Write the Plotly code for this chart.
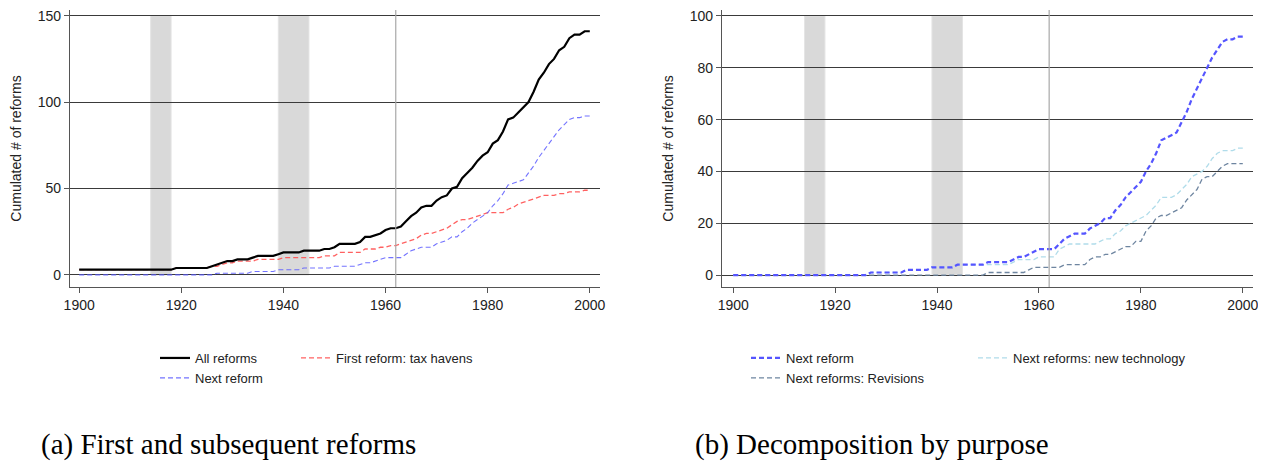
import plotly.graph_objects as go

years = list(range(1900, 2001))

# Cumulated number of reforms
all_reforms = ([3] * 19 + [4] * 6 +
               [4, 5, 6, 7, 8, 8, 9, 9, 9, 10, 11, 11, 11, 11, 12,  # 1925-1939
                13, 13, 13, 13, 14, 14, 14, 14, 15, 15,             # 1940-1949
                16, 18, 18, 18, 18, 19, 22, 22, 23, 24,             # 1950-1959
                26, 27, 27, 28, 31, 34, 36, 39, 40, 40,             # 1960-1969
                43, 45, 46, 50, 51, 56, 59, 62, 66, 69,             # 1970-1979
                71, 76, 78, 83, 90, 91, 94, 97, 100, 106,           # 1980-1989
                113, 117, 122, 125, 130, 132, 137, 139, 139, 141,   # 1990-1999
                141])
first_reform = ([3] * 19 + [4] * 7 +
                [5, 5, 6, 7, 7, 8, 8, 8, 8, 9, 9, 9, 9, 9,          # 1926-1939
                 10, 10, 10, 10, 10, 10, 10, 10, 11, 11,            # 1940-1949
                 11, 13, 13, 13, 13, 13, 15, 15, 15, 16,            # 1950-1959
                 16, 17, 17, 18, 19, 20, 21, 23, 24, 24,            # 1960-1969
                 25, 26, 27, 29, 31, 32, 32, 33, 34, 35,            # 1970-1979
                 36, 36, 36, 36, 38, 39, 41, 42, 43, 44,            # 1980-1989
                 45, 46, 46, 46, 47, 47, 48, 48, 48, 49,            # 1990-1999
                 49])
next_reform = ([0] * 27 +
               [1, 1, 1, 1, 1, 1, 1, 2, 2, 2, 2, 2, 3,              # 1927-1939
                3, 3, 3, 3, 4, 4, 4, 4, 4, 4,                       # 1940-1949
                5, 5, 5, 5, 5, 6, 7, 7, 8, 9,                       # 1950-1959
                10, 10, 10, 10, 12, 14, 15, 16, 16, 16,             # 1960-1969
                18, 19, 20, 22, 22, 25, 27, 30, 32, 34,             # 1970-1979
                36, 40, 43, 47, 52, 53, 54, 55, 59, 63,             # 1980-1989
                68, 72, 76, 80, 84, 87, 90, 91, 91, 92,             # 1990-1999
                92])
revisions = ([0] * 50 +
             [1, 1, 1, 1, 1, 1, 1, 1, 2, 3,                         # 1950-1959
              3, 3, 3, 3, 3, 4, 4, 4, 4, 4,                         # 1960-1969
              6, 7, 7, 8, 8, 9, 10, 11, 11, 13,                     # 1970-1979
              13, 17, 19, 22, 23, 23, 24, 25, 26, 29,               # 1980-1989
              31, 33, 37, 38, 38, 40, 42, 43, 43, 43,               # 1990-1999
              43])
new_technology = ([0] * 27 +
                  [1, 1, 1, 1, 1, 1, 1, 2, 2, 2, 2, 2, 3,           # 1927-1939
                   3, 3, 3, 3, 4, 4, 4, 4, 4, 4,                    # 1940-1949
                   4, 4, 4, 4, 4, 5, 6, 6, 6, 6,                    # 1950-1959
                   7, 7, 7, 7, 10, 11, 12, 12, 12, 12,              # 1960-1969
                   12, 12, 13, 14, 14, 16, 17, 19, 20, 21,          # 1970-1979
                   22, 23, 25, 27, 30, 30, 30, 31, 33, 35,          # 1980-1989
                   38, 39, 40, 42, 45, 47, 48, 48, 48, 49,          # 1990-1999
                   49])

war_starts = [1914, 1939]
war_ends = [1918, 1945]
ref_year = 1962
x_ticks = [1900, 1920, 1940, 1960, 1980, 2000]
y_ticks_a = [0, 50, 100, 150]
y_ticks_b = [0, 20, 40, 60, 80, 100]

# the page body has an 8px margin, so the figure is drawn 8px in from the window edge
OFF = 8
W, H = 1266 - OFF, 461 - OFF


def px(x):
    return (x - OFF) / W


def py(y):
    return 1 - (y - OFF) / H


font = "Liberation Sans, Arial, sans-serif"

fig = go.Figure()

dash = "5px,3px"

# Left panel
fig.add_trace(go.Scatter(x=years, y=first_reform, mode="lines", name="First reform: tax havens",
                         line=dict(color="rgba(255,80,80,0.9)", width=1.3, dash=dash),
                         legend="legend", legendgroup="a2", legendrank=3, xaxis="x", yaxis="y"))
fig.add_trace(go.Scatter(x=years, y=next_reform, mode="lines", name="Next reform",
                         line=dict(color="rgba(90,90,255,0.85)", width=1.1, dash=dash),
                         legend="legend", legendgroup="a1", legendrank=2, legendwidth=96,
                         xaxis="x", yaxis="y"))
fig.add_trace(go.Scatter(x=years, y=all_reforms, mode="lines", name="All reforms",
                         line=dict(color="black", width=2.2),
                         legend="legend", legendgroup="a1", legendrank=1, legendwidth=96,
                         xaxis="x", yaxis="y"))

# Right panel
fig.add_trace(go.Scatter(x=years, y=revisions, mode="lines", name="Next reforms: Revisions",
                         line=dict(color="#6E85A0", width=1.3, dash=dash),
                         legend="legend2", legendgroup="b1", legendrank=2, legendwidth=182,
                         xaxis="x2", yaxis="y2"))
fig.add_trace(go.Scatter(x=years, y=new_technology, mode="lines", name="Next reforms: new technology",
                         line=dict(color="#B0DCEA", width=1.3, dash=dash),
                         legend="legend2", legendgroup="b2", legendrank=3, xaxis="x2", yaxis="y2"))
fig.add_trace(go.Scatter(x=years, y=next_reform, mode="lines", name="Next reform",
                         line=dict(color="#5555FF", width=2.2, dash=dash),
                         legend="legend2", legendgroup="b1", legendrank=1, legendwidth=182,
                         xaxis="x2", yaxis="y2"))

shapes = []
for xa, ya, ymax in (("x", "y", 150), ("x2", "y2", 100)):
    for s, e in zip(war_starts, war_ends):
        shapes.append(dict(type="rect", xref=xa, yref=ya, x0=s, x1=e, y0=0, y1=ymax,
                           fillcolor="#D9D9D9", line=dict(color="#E4E4E4", width=1), layer="below"))
    shapes.append(dict(type="line", xref=xa, yref=ya + " domain", x0=ref_year, x1=ref_year, y0=0, y1=1,
                       line=dict(color="#A8A8A8", width=1.2), layer="above"))

axis_common = dict(showline=True, linecolor="#555555", linewidth=1.2, ticks="outside", ticklen=5,
                   tickcolor="#555555", tickfont=dict(family=font, size=14, color="#222"), zeroline=False,
                   automargin=False, ticklabeloverflow="allow")

title_font = dict(family=font, size=14, color="#222")
yd = [py(287), py(10)]
fig.update_layout(
    width=W, height=H, margin=dict(l=0, r=0, t=0, b=0, autoexpand=False),
    plot_bgcolor="white", paper_bgcolor="white",
    showlegend=True,
    xaxis=dict(domain=[px(70), px(600)], range=[1898.2, 2002], tickvals=x_ticks, showgrid=False,
               anchor="y", **axis_common),
    yaxis=dict(domain=yd, range=[-7, 153.3], tickvals=y_ticks_a, showgrid=True, gridcolor="#3A3A3A",
               gridwidth=1.3, anchor="x",
               title=dict(text="Cumulated # of reforms", font=title_font, standoff=13),
               **axis_common),
    xaxis2=dict(domain=[px(722), px(1253)], range=[1897.8, 2002], tickvals=x_ticks, showgrid=False,
                anchor="y2", **axis_common),
    yaxis2=dict(domain=yd, range=[-4.6, 102.3], tickvals=y_ticks_b, showgrid=True, gridcolor="#3A3A3A",
                gridwidth=1.3, anchor="x2",
                title=dict(text="Cumulated # of reforms", font=title_font, standoff=12),
                **axis_common),
    legend=dict(orientation="h", traceorder="grouped", x=px(155), y=py(343), xanchor="left", yanchor="top",
                font=dict(family=font, size=13, color="#222"), bgcolor="rgba(0,0,0,0)",
                itemwidth=30, tracegroupgap=0, itemclick=False),
    legend2=dict(orientation="h", traceorder="grouped", x=px(746), y=py(343), xanchor="left", yanchor="top",
                 font=dict(family=font, size=13, color="#222"), bgcolor="rgba(0,0,0,0)",
                 itemwidth=30, tracegroupgap=0, itemclick=False),
    shapes=shapes,
    annotations=[
        dict(text="(a) First and subsequent reforms", xref="paper", yref="paper", x=px(228), y=py(444),
             xanchor="center", yanchor="middle", showarrow=False,
             font=dict(family="Liberation Serif, DejaVu Serif, serif", size=29, color="black")),
        dict(text="(b) Decomposition by purpose", xref="paper", yref="paper", x=px(872), y=py(444),
             xanchor="center", yanchor="middle", showarrow=False,
             font=dict(family="Liberation Serif, DejaVu Serif, serif", size=29, color="black")),
    ],
)

fig.write_html("out.html")
